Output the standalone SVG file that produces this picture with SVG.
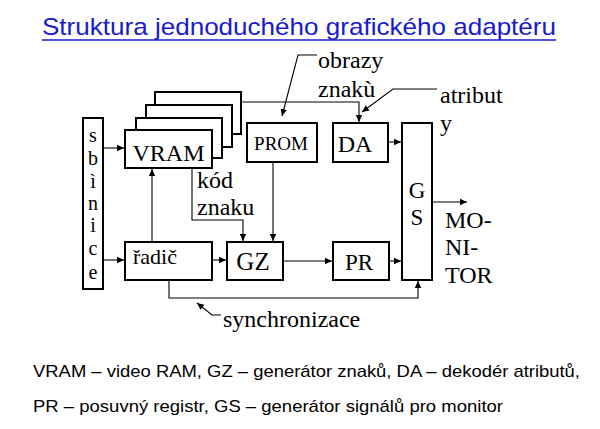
<svg xmlns="http://www.w3.org/2000/svg" width="600" height="429" viewBox="0 0 600 429">
<style>
.box{fill:#fff;stroke:#000;stroke-width:2}
.ln{fill:none;stroke:#000;stroke-width:1.1}
.t{font-family:"Liberation Serif","Times New Roman",serif;fill:#000}
.s{font-family:"Liberation Sans",Arial,sans-serif;fill:#000}
</style>
<defs>
<marker id="ah" markerWidth="8" markerHeight="8" refX="7" refY="4" orient="auto" markerUnits="userSpaceOnUse">
<path d="M0,0.8 L7,4 L0,7.2 Z" fill="#000"/>
</marker>
</defs>
<rect width="600" height="429" fill="#fff"/>
<g id="title">
<text x="42" y="35" class="s" font-size="24" fill="#1a1acc" style="fill:#1a1acc" textLength="514" lengthAdjust="spacingAndGlyphs">Struktura jednoduchého grafického adaptéru</text>
<line x1="42" y1="40" x2="556" y2="40" stroke="#1a1acc" stroke-width="1.5"/>
</g>
<g id="connectors">
<path class="ln" d="M241,102 H359 V122" marker-end="url(#ah)"/>
<path class="ln" d="M317,55 H298 L282,116" marker-end="url(#ah)"/>
<path class="ln" d="M437,89 H393 L362,112" marker-end="url(#ah)"/>
<path class="ln" d="M388,142 H401" marker-end="url(#ah)"/>
<path class="ln" d="M103,148 H124" marker-end="url(#ah)"/>
<path class="ln" d="M192,168 V220 H243 V241" marker-end="url(#ah)"/>
<path class="ln" d="M273,162 V241" marker-end="url(#ah)"/>
<path class="ln" d="M152,242 V169" marker-end="url(#ah)"/>
<path class="ln" d="M103,260 H124" marker-end="url(#ah)"/>
<path class="ln" d="M212,260 H226" marker-end="url(#ah)"/>
<path class="ln" d="M283,261 H332" marker-end="url(#ah)"/>
<path class="ln" d="M389,261 H401" marker-end="url(#ah)"/>
<path class="ln" d="M432,202 H467" marker-end="url(#ah)"/>
<path class="ln" d="M169,280 V298 H418 V281" marker-end="url(#ah)"/>
<path class="ln" d="M221,315 H212 L197,303" marker-end="url(#ah)"/>
</g>
<g id="sbernice">
<rect class="box" x="83" y="118" width="20" height="171"/>
<text class="t" font-size="20" text-anchor="middle">
<tspan x="93" y="142">s</tspan><tspan x="93" y="165">b</tspan><tspan x="93" y="188">ì</tspan><tspan x="93" y="210">n</tspan><tspan x="93" y="232">i</tspan><tspan x="93" y="255">c</tspan><tspan x="93" y="279">e</tspan>
</text>
</g>
<g id="vram">
<rect class="box" x="155" y="92" width="86" height="42"/>
<rect class="box" x="146" y="105" width="86" height="42"/>
<rect class="box" x="136" y="118" width="86" height="40"/>
<rect class="box" x="125" y="130" width="87" height="38"/>
<text class="t" x="168.5" y="161" font-size="24" text-anchor="middle">VRAM</text>
</g>
<g id="prom">
<rect class="box" x="247" y="123" width="70" height="39"/>
<text class="t" x="281" y="150" font-size="19" text-anchor="middle">PROM</text>
</g>
<g id="da">
<rect class="box" x="333" y="123" width="55" height="39"/>
<text class="t" x="355" y="152" font-size="24" text-anchor="middle">DA</text>
</g>
<g id="gs">
<rect class="box" x="402" y="123" width="30" height="157"/>
<text class="t" x="417" y="198" font-size="23" text-anchor="middle">G</text>
<text class="t" x="417" y="225" font-size="23" text-anchor="middle">S</text>
</g>
<g id="radic">
<rect class="box" x="125" y="242" width="87" height="38"/>
<text class="t" x="133" y="264" font-size="22">řadič</text>
</g>
<g id="gz">
<rect class="box" x="227" y="242" width="56" height="38"/>
<text class="t" x="253" y="270" font-size="25" text-anchor="middle">GZ</text>
</g>
<g id="pr">
<rect class="box" x="333" y="242" width="56" height="38"/>
<text class="t" x="359" y="270" font-size="23" text-anchor="middle">PR</text>
</g>
<g id="labels">
<text class="t" x="318" y="68" font-size="24">obrazy</text>
<text class="t" x="318" y="97" font-size="24">znakù</text>
<text class="t" x="440" y="103" font-size="24">atribut</text>
<text class="t" x="440" y="131" font-size="24">y</text>
<text class="t" x="197" y="188" font-size="24">kód</text>
<text class="t" x="197" y="215" font-size="24">znaku</text>
<text class="t" x="445" y="228" font-size="24">MO-</text>
<text class="t" x="445" y="255" font-size="24">NI-</text>
<text class="t" x="445" y="283" font-size="24">TOR</text>
<text class="t" x="223" y="327" font-size="24">synchronizace</text>
</g>
<g id="legend">
<text class="s" x="33" y="377" font-size="17" textLength="547" lengthAdjust="spacingAndGlyphs">VRAM – video RAM, GZ – generátor znaků, DA – dekodér atributů,</text>
<text class="s" x="33" y="412" font-size="17" textLength="470" lengthAdjust="spacingAndGlyphs">PR – posuvný registr, GS – generátor signálů pro monitor</text>
</g>
</svg>
